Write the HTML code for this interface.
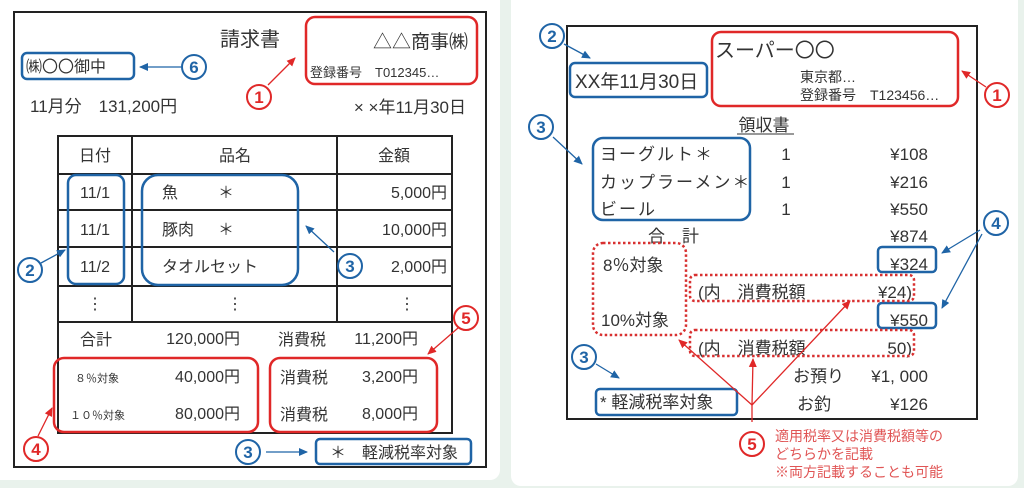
<!DOCTYPE html>
<html><head><meta charset="utf-8"><style>
html,body{margin:0;padding:0;width:1024px;height:488px;overflow:hidden;background:#e9f2ec;}
svg{display:block}
text{font-family:"Liberation Sans","Noto Sans CJK JP",sans-serif;fill:#333;}
</style></head><body>
<svg width="1024" height="488" viewBox="0 0 1024 488" xmlns="http://www.w3.org/2000/svg">
<defs>
<marker id="ab" markerWidth="10" markerHeight="10" refX="8" refY="5" orient="auto" markerUnits="userSpaceOnUse"><path d="M0,1 L9,5 L0,9 z" fill="#1f64a6"/></marker>
<marker id="ar" markerWidth="10" markerHeight="10" refX="8" refY="5" orient="auto" markerUnits="userSpaceOnUse"><path d="M0,1 L9,5 L0,9 z" fill="#e02828"/></marker>
</defs>
<rect x="-10" y="-10" width="510" height="490" rx="10" fill="#fff"/>
<rect x="511" y="-10" width="507" height="496" rx="10" fill="#fff"/>

<rect x="14" y="12" width="472" height="455" fill="none" stroke="#222" stroke-width="2"/>
<text x="220" y="46" font-size="20">請求書</text>
<rect x="306" y="17" width="171" height="67" rx="9" fill="none" stroke="#e02828" stroke-width="2.5"/>
<text x="468" y="48" font-size="19" text-anchor="end">△△商事㈱</text>
<text x="310" y="77" font-size="13">登録番号　T012345…</text>
<circle cx="259" cy="97" r="12" fill="#fff" stroke="#e02828" stroke-width="2"/><text x="259" y="103" font-size="17" font-weight="bold" text-anchor="middle" style="fill:#e02828">1</text>
<line x1="268" y1="85" x2="295" y2="58" stroke="#e02828" stroke-width="1.3" marker-end="url(#ar)"/>
<rect x="22" y="53" width="112" height="26" rx="5" fill="none" stroke="#1f64a6" stroke-width="2.5"/>
<text x="26" y="72" font-size="16">㈱〇〇御中</text>
<circle cx="194" cy="67" r="12" fill="#fff" stroke="#1f64a6" stroke-width="2"/><text x="194" y="73" font-size="17" font-weight="bold" text-anchor="middle" style="fill:#1f64a6">6</text>
<line x1="181" y1="67" x2="140" y2="67" stroke="#1f64a6" stroke-width="1.3" marker-end="url(#ab)"/>
<text x="30" y="112" font-size="17">11月分　131,200円</text>
<text x="466" y="113" font-size="17" text-anchor="end">× ×年11月30日</text>

<g stroke="#222" stroke-width="2" fill="none">
<rect x="58" y="136" width="394" height="297"/>
<line x1="132" y1="136" x2="132" y2="322"/><line x1="337" y1="136" x2="337" y2="322"/>
<line x1="58" y1="174" x2="452" y2="174"/><line x1="58" y1="210" x2="452" y2="210"/>
<line x1="58" y1="247" x2="452" y2="247"/><line x1="58" y1="286" x2="452" y2="286"/>
<line x1="58" y1="322" x2="452" y2="322"/>
</g>
<g font-size="16">
<text x="95" y="161" text-anchor="middle">日付</text>
<text x="235" y="161" text-anchor="middle">品名</text>
<text x="394" y="161" text-anchor="middle">金額</text>
<text x="95" y="198" text-anchor="middle">11/1</text>
<text x="95" y="235" text-anchor="middle">11/1</text>
<text x="95" y="272" text-anchor="middle">11/2</text>
<text x="162" y="198">魚</text><text x="218" y="198">＊</text>
<text x="162" y="235">豚肉</text><text x="218" y="235">＊</text>
<text x="162" y="272">タオルセット</text>
<text x="447" y="198" text-anchor="end">5,000円</text>
<text x="447" y="235" text-anchor="end">10,000円</text>
<text x="447" y="272" text-anchor="end">2,000円</text>
<text x="95" y="309" text-anchor="middle">⋮</text>
<text x="235" y="309" text-anchor="middle">⋮</text>
<text x="407" y="309" text-anchor="middle">⋮</text>
<text x="80" y="345">合計</text>
<text x="240" y="344" text-anchor="end">120,000円</text>
<text x="278" y="345">消費税</text>
<text x="418" y="344" text-anchor="end">11,200円</text>
<text x="240" y="382" text-anchor="end">40,000円</text>
<text x="240" y="419" text-anchor="end">80,000円</text>
<text x="280" y="383">消費税</text><text x="418" y="382" text-anchor="end">3,200円</text>
<text x="280" y="420">消費税</text><text x="418" y="419" text-anchor="end">8,000円</text>
</g>
<text x="75" y="382" font-size="11">８％対象</text>
<text x="70" y="419" font-size="11">１０％対象</text>
<rect x="68" y="175" width="56" height="109" rx="8" fill="none" stroke="#1f64a6" stroke-width="2.5"/>
<rect x="142" y="175" width="156" height="110" rx="16" fill="none" stroke="#1f64a6" stroke-width="2.5"/>
<circle cx="30" cy="270" r="12" fill="#fff" stroke="#1f64a6" stroke-width="2"/><text x="30" y="276" font-size="17" font-weight="bold" text-anchor="middle" style="fill:#1f64a6">2</text>
<line x1="41" y1="263" x2="65" y2="250" stroke="#1f64a6" stroke-width="1.3" marker-end="url(#ab)"/>
<circle cx="350" cy="266" r="12" fill="#fff" stroke="#1f64a6" stroke-width="2"/><text x="350" y="272" font-size="17" font-weight="bold" text-anchor="middle" style="fill:#1f64a6">3</text>
<line x1="334" y1="252" x2="306" y2="226" stroke="#1f64a6" stroke-width="1.3" marker-end="url(#ab)"/>
<rect x="54" y="358" width="204" height="74" rx="10" fill="none" stroke="#e02828" stroke-width="2.5"/>
<rect x="270" y="358" width="167" height="74" rx="10" fill="none" stroke="#e02828" stroke-width="2.5"/>
<circle cx="466" cy="318" r="12" fill="#fff" stroke="#e02828" stroke-width="2"/><text x="466" y="324" font-size="17" font-weight="bold" text-anchor="middle" style="fill:#e02828">5</text>
<line x1="458" y1="328" x2="428" y2="354" stroke="#e02828" stroke-width="1.3" marker-end="url(#ar)"/>
<circle cx="36" cy="449" r="12" fill="#fff" stroke="#e02828" stroke-width="2"/><text x="36" y="455" font-size="17" font-weight="bold" text-anchor="middle" style="fill:#e02828">4</text>
<line x1="38" y1="436" x2="52" y2="408" stroke="#e02828" stroke-width="1.3" marker-end="url(#ar)"/>
<circle cx="248" cy="452" r="12" fill="#fff" stroke="#1f64a6" stroke-width="2"/><text x="248" y="458" font-size="17" font-weight="bold" text-anchor="middle" style="fill:#1f64a6">3</text>
<line x1="266" y1="452" x2="307" y2="452" stroke="#1f64a6" stroke-width="1.3" marker-end="url(#ab)"/>
<rect x="316" y="439" width="155" height="25" rx="4" fill="#fff" stroke="#1f64a6" stroke-width="2.5"/>
<text x="330" y="458" font-size="16">＊　軽減税率対象</text>

<rect x="567" y="26" width="410" height="393" fill="none" stroke="#222" stroke-width="2"/>
<circle cx="552" cy="36" r="12" fill="#fff" stroke="#1f64a6" stroke-width="2"/><text x="552" y="42" font-size="17" font-weight="bold" text-anchor="middle" style="fill:#1f64a6">2</text>
<line x1="564" y1="44" x2="590" y2="58" stroke="#1f64a6" stroke-width="1.3" marker-end="url(#ab)"/>
<rect x="570" y="63" width="137" height="34" rx="5" fill="none" stroke="#1f64a6" stroke-width="2.5"/>
<text x="575" y="88" font-size="19">XX年11月30日</text>
<rect x="712" y="32" width="246" height="74" rx="9" fill="none" stroke="#e02828" stroke-width="2.5"/>
<text x="715" y="57" font-size="20">スーパー〇〇</text>
<text x="800" y="82" font-size="14">東京都…</text>
<text x="800" y="100" font-size="14">登録番号　T123456…</text>
<circle cx="997" cy="95" r="12" fill="#fff" stroke="#e02828" stroke-width="2"/><text x="997" y="101" font-size="17" font-weight="bold" text-anchor="middle" style="fill:#e02828">1</text>
<line x1="986" y1="87" x2="962" y2="71" stroke="#e02828" stroke-width="1.3" marker-end="url(#ar)"/>
<text x="764" y="131" font-size="17" text-anchor="middle">領収書</text>
<line x1="737" y1="134" x2="794" y2="134" stroke="#333" stroke-width="1"/>
<circle cx="541" cy="127" r="12" fill="#fff" stroke="#1f64a6" stroke-width="2"/><text x="541" y="133" font-size="17" font-weight="bold" text-anchor="middle" style="fill:#1f64a6">3</text>
<line x1="553" y1="137" x2="582" y2="164" stroke="#1f64a6" stroke-width="1.3" marker-end="url(#ab)"/>
<rect x="593" y="138" width="157" height="82" rx="10" fill="none" stroke="#1f64a6" stroke-width="2.5"/>
<g font-size="17" letter-spacing="2">
<text x="600" y="160">ヨーグルト＊</text>
<text x="600" y="188">カップラーメン＊</text>
<text x="600" y="215">ビール</text>
</g>
<g font-size="17">
<text x="786" y="160" text-anchor="middle">1</text>
<text x="786" y="188" text-anchor="middle">1</text>
<text x="786" y="215" text-anchor="middle">1</text>
<text x="928" y="160" text-anchor="end">¥108</text>
<text x="928" y="188" text-anchor="end">¥216</text>
<text x="928" y="215" text-anchor="end">¥550</text>
<text x="648" y="242">合　計</text>
<text x="928" y="242" text-anchor="end">¥874</text>
<text x="928" y="270" text-anchor="end">¥324</text>
<text x="928" y="326" text-anchor="end">¥550</text>
<text x="603" y="271">8％対象</text>
<text x="601" y="326">10%対象</text>
<text x="698" y="298">(内　消費税額</text><text x="912" y="298" text-anchor="end">¥24)</text>
<text x="698" y="354">(内　消費税額</text><text x="912" y="354" text-anchor="end">50)</text>
<text x="793" y="382">お預り</text><text x="928" y="382" text-anchor="end">¥1, 000</text>
<text x="797" y="410">お釣</text><text x="928" y="410" text-anchor="end">¥126</text>
</g>
<rect x="878" y="247" width="58" height="25" rx="4" fill="none" stroke="#1f64a6" stroke-width="2.5"/>
<rect x="878" y="303" width="58" height="25" rx="4" fill="none" stroke="#1f64a6" stroke-width="2.5"/>
<circle cx="996" cy="223" r="12" fill="#fff" stroke="#1f64a6" stroke-width="2"/><text x="996" y="229" font-size="17" font-weight="bold" text-anchor="middle" style="fill:#1f64a6">4</text>
<line x1="980" y1="230" x2="942" y2="253" stroke="#1f64a6" stroke-width="1.3" marker-end="url(#ab)"/>
<line x1="982" y1="234" x2="942" y2="308" stroke="#1f64a6" stroke-width="1.3" marker-end="url(#ab)"/>
<g fill="none" stroke="#d83030" stroke-width="2.5" stroke-dasharray="2.5 2.5">
<rect x="593" y="243" width="93" height="92" rx="10"/>
<rect x="690" y="275" width="224" height="26" rx="5"/>
<rect x="690" y="330" width="224" height="26" rx="5"/>
</g>
<circle cx="584" cy="357" r="12" fill="#fff" stroke="#1f64a6" stroke-width="2"/><text x="584" y="363" font-size="17" font-weight="bold" text-anchor="middle" style="fill:#1f64a6">3</text>
<line x1="596" y1="364" x2="619" y2="378" stroke="#1f64a6" stroke-width="1.3" marker-end="url(#ab)"/>
<rect x="596" y="389" width="141" height="26" rx="4" fill="none" stroke="#1f64a6" stroke-width="2.5"/>
<text x="600" y="408" font-size="17">*  軽減税率対象</text>
<g stroke="#e02828" stroke-width="1.3" fill="none">
<line x1="752" y1="422" x2="752" y2="405"/>
<line x1="752" y1="405" x2="679" y2="340" marker-end="url(#ar)"/>
<line x1="752" y1="405" x2="753" y2="359" marker-end="url(#ar)"/>
<line x1="752" y1="405" x2="850" y2="301" marker-end="url(#ar)"/>
</g>
<circle cx="752" cy="444" r="12" fill="#fff" stroke="#e02828" stroke-width="2"/><text x="752" y="450" font-size="17" font-weight="bold" text-anchor="middle" style="fill:#e02828">5</text>
<g font-size="14">
<text x="775" y="441" style="fill:#e05555">適用税率又は消費税額等の</text>
<text x="775" y="459" style="fill:#e05555">どちらかを記載</text>
<text x="775" y="477" style="fill:#e05555">※両方記載することも可能</text>
</g>
</svg>
</body></html>
